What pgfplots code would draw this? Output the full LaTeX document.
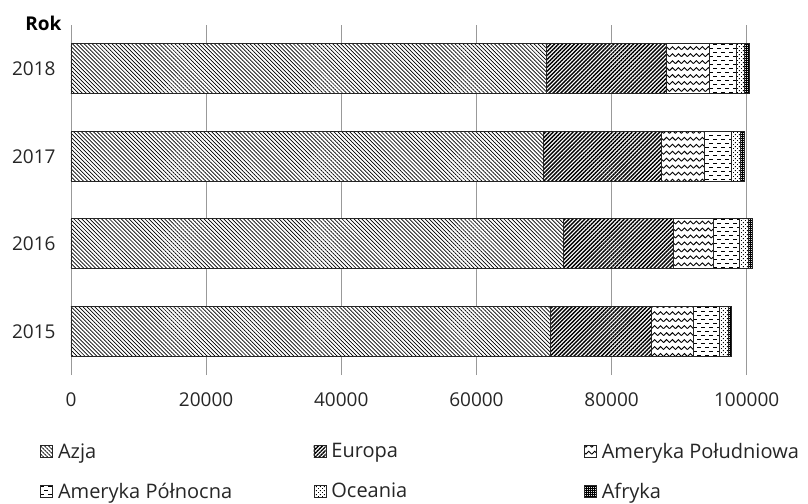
\documentclass[border=0pt]{standalone}
\usepackage{fontspec}
\setmainfont{Open Sans}
\usepackage{pgfplots}
\pgfplotsset{compat=1.18}
\usetikzlibrary{patterns,patterns.meta}

% fill patterns for the continents
\pgfdeclarepatternformonly{wavy}{\pgfqpoint{-1pt}{-1pt}}{\pgfqpoint{7pt}{8pt}}{\pgfqpoint{6pt}{7pt}}{%
  \pgfsetlinewidth{0.9pt}%
  \pgfpathmoveto{\pgfqpoint{0pt}{1pt}}%
  \pgfpathcurveto{\pgfqpoint{1.5pt}{1pt}}{\pgfqpoint{1.5pt}{4pt}}{\pgfqpoint{3pt}{4pt}}%
  \pgfpathcurveto{\pgfqpoint{4.5pt}{4pt}}{\pgfqpoint{4.5pt}{1pt}}{\pgfqpoint{6pt}{1pt}}%
  \pgfusepath{stroke}}
\pgfdeclarepatternformonly{hdashes}{\pgfqpoint{-1pt}{-1pt}}{\pgfqpoint{9pt}{9pt}}{\pgfqpoint{8pt}{8pt}}{%
  \pgfsetlinewidth{1pt}%
  \pgfpathmoveto{\pgfqpoint{0pt}{1.5pt}}\pgfpathlineto{\pgfqpoint{4pt}{1.5pt}}%
  \pgfpathmoveto{\pgfqpoint{4pt}{5.5pt}}\pgfpathlineto{\pgfqpoint{8pt}{5.5pt}}%
  \pgfusepath{stroke}}
\pgfdeclarepatternformonly{sparsedots}{\pgfqpoint{0pt}{0pt}}{\pgfqpoint{4pt}{4pt}}{\pgfqpoint{4pt}{4pt}}{%
  \pgfpathrectangle{\pgfqpoint{0pt}{0pt}}{\pgfqpoint{1pt}{1pt}}%
  \pgfpathrectangle{\pgfqpoint{2pt}{2pt}}{\pgfqpoint{1pt}{1pt}}%
  \pgfusepath{fill}}
\pgfdeclarepatternformonly{darkdots}{\pgfqpoint{0pt}{0pt}}{\pgfqpoint{2pt}{2pt}}{\pgfqpoint{2pt}{2pt}}{%
  \pgfpathrectangle{\pgfqpoint{0pt}{0pt}}{\pgfqpoint{1pt}{1pt}}%
  \pgfpathrectangle{\pgfqpoint{1pt}{1pt}}{\pgfqpoint{1pt}{1pt}}%
  \pgfpathrectangle{\pgfqpoint{1pt}{0pt}}{\pgfqpoint{1pt}{1pt}}%
  \pgfusepath{fill}}

\newcommand\chartfont{\fontsize{19bp}{23bp}\selectfont}
\newcommand\legendfont{\fontsize{20bp}{24bp}\selectfont}

\begin{document}
\begin{tikzpicture}
\begin{axis}[
  scale only axis, width=675.7bp, height=350bp,
  xbar stacked, bar width=0.573,
  xmin=0, xmax=100000, ymin=-0.5, ymax=3.5,
  clip=false,
  axis line style={draw=none},
  major tick length=0pt,
  xtick={0,20000,40000,60000,80000,100000},
  xticklabels={0,20000,40000,60000,80000,100000},
  ytick={0,1,2,3}, yticklabels={2015,2016,2017,2018},
  xmajorgrids, grid style={black!40, line width=0.9bp},
  scaled x ticks=false,
  xticklabel style={font=\chartfont, text=black!85, yshift=-14bp},
  yticklabel style={font=\chartfont, text=black!85, xshift=-12bp},
  every axis plot/.append style={fill=white, draw=black!85, line width=0.7bp, pattern color=black},
  legend columns=3,
  legend style={draw=none, at={(-0.046,-0.19)}, anchor=north west, font=\legendfont, text=black!85,
    /tikz/every odd column/.append style={column sep=4bp},
    /tikz/every even column/.append style={column sep=0bp},
    row sep=20bp, inner sep=0pt, nodes={inner sep=1.5bp}},
  legend cell align=left,
  legend image code/.code={\draw[#1, line width=0.4bp] (0bp,-6bp) rectangle (12bp,6bp);},
]
% Azja
\addplot[postaction={pattern={Lines[angle=-45, distance=2.8pt, line width=0.7pt]}, pattern color=black}] coordinates {(71000,0) (72900,1) (69900,2) (70300,3)};
\addlegendentry{\makebox[254bp][l]{Azja}}
% Europa
\addplot[postaction={pattern={Lines[angle=45, distance=2.8pt, line width=1.4pt]}}] coordinates {(14900,0) (16200,1) (17500,2) (17800,3)};
\addlegendentry{\makebox[251bp][l]{Europa}}
% Ameryka Południowa
\addplot[postaction={pattern=wavy}] coordinates {(6200,0) (5900,1) (6300,2) (6300,3)};
\addlegendentry{Ameryka Południowa}
% Ameryka Północna
\addplot[postaction={pattern=hdashes}] coordinates {(3800,0) (3900,1) (4100,2) (4100,3)};
\addlegendentry{\makebox[254bp][l]{Ameryka Północna}}
% Oceania
\addplot[postaction={pattern=sparsedots}] coordinates {(1400,0) (1300,1) (1200,2) (1200,3)};
\addlegendentry{\makebox[251bp][l]{Oceania}}
% Afryka
\addplot[postaction={pattern=darkdots}] coordinates {(400,0) (600,1) (600,2) (700,3)};
\addlegendentry{Afryka}
\node[anchor=base east, font=\chartfont\bfseries, xshift=-6bp, yshift=-6bp] at (rel axis cs:0,1) {Rok};
\end{axis}
\pgfresetboundingbox
\useasboundingbox (-71bp,-129bp) rectangle (737bp,375bp);
\end{tikzpicture}
\end{document}
